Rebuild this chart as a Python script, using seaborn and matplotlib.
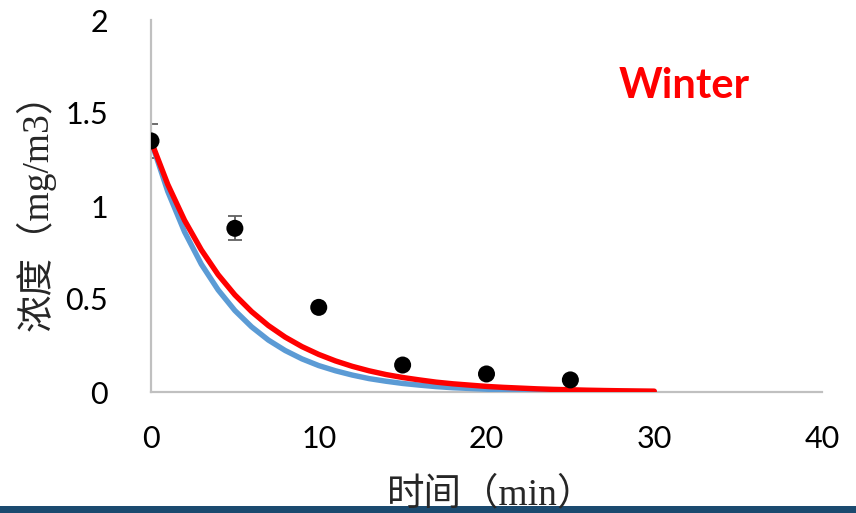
import numpy as np
import pandas as pd
import matplotlib
matplotlib.use("Agg")
import matplotlib.pyplot as plt
from matplotlib.patches import Rectangle
import seaborn as sns

# Measured concentrations (mean and error) at each sampling time
time_obs = [0, 5, 10, 15, 20, 25]
conc_obs = [1.35, 0.88, 0.455, 0.145, 0.097, 0.065]
conc_err = [0.09, 0.065, 0.0, 0.0, 0.0, 0.0]

# Model decay curves, tabulated per minute
time_model = list(range(0, 31))
conc_blue = [1.350, 1.078, 0.861, 0.687, 0.549, 0.438, 0.350, 0.279, 0.223, 0.178,
             0.142, 0.114, 0.091, 0.072, 0.058, 0.046, 0.037, 0.029, 0.023, 0.019,
             0.015, 0.012, 0.0095, 0.0076, 0.006, 0.0048, 0.0039, 0.0031, 0.0025,
             0.002, 0.0016]
conc_red = [1.350, 1.116, 0.923, 0.764, 0.631, 0.522, 0.432, 0.357, 0.295, 0.244,
            0.202, 0.167, 0.138, 0.114, 0.094, 0.078, 0.065, 0.053, 0.044, 0.037,
            0.030, 0.025, 0.021, 0.017, 0.014, 0.012, 0.0097, 0.008, 0.0066,
            0.0055, 0.0045]

x_ticks = [0, 10, 20, 30, 40]
y_ticks = [0, 0.5, 1, 1.5, 2]
x_label = "时间（min）"
y_label = "浓度（mg/m3）"
season = "Winter"

sns.set_theme(style="white")
plt.rcParams["font.family"] = ["Lato", "DejaVu Sans"]

fig = plt.figure(figsize=(8.56, 5.13), dpi=100)
ax = fig.add_axes([151 / 856, 1 - 392 / 513, (822 - 151) / 856, (392 - 20) / 513])
ax.set_facecolor("none")

model = pd.DataFrame({"t": time_model, "blue": conc_blue, "red": conc_red})
sns.lineplot(data=model, x="t", y="blue", ax=ax, color="#5b9bd5", lw=3.9,
             solid_capstyle="round", solid_joinstyle="round", zorder=3)
sns.lineplot(data=model, x="t", y="red", ax=ax, color="#ff0000", lw=3.9,
             solid_capstyle="round", solid_joinstyle="round", zorder=4)

obs = pd.DataFrame({"t": time_obs, "c": conc_obs, "e": conc_err})
ax.errorbar(obs["t"], obs["c"], yerr=obs["e"], fmt="none", ecolor="#606060",
            elinewidth=1.3, capsize=4.8, capthick=1.3, zorder=2)
sns.scatterplot(data=obs, x="t", y="c", ax=ax, color="black", s=150,
                edgecolor="none", zorder=5)

ax.set_xlim(0, 40)
ax.set_ylim(0, 2)
ax.set_xticks(x_ticks)
ax.set_yticks(y_ticks)
ax.set_xticklabels([str(v) for v in x_ticks])
ax.set_yticklabels([f"{v:g}" for v in y_ticks])
ax.tick_params(axis="both", length=0, labelsize=22, colors="black")
ax.tick_params(axis="x", pad=24)
ax.tick_params(axis="y", pad=31)

for side in ["top", "right"]:
    ax.spines[side].set_visible(False)
for side in ["left", "bottom"]:
    ax.spines[side].set_color("#c0c0c0")
    ax.spines[side].set_linewidth(1.6)
ax.grid(False)

ax.set_xlabel("")
ax.set_ylabel("")
fig.text(491 / 856, 1 - 495 / 513, x_label, ha="center", va="center", fontsize=27,
         family=["Liberation Serif", "Noto Sans CJK SC"], zorder=10)
fig.text(36 / 856, 1 - 203 / 513, y_label, ha="center", va="center", fontsize=27,
         rotation=90, family=["Liberation Serif", "Noto Sans CJK SC"])

ax.text(684 / 856, 1 - 86 / 513, season, transform=fig.transFigure, ha="center",
        va="center", fontsize=30, fontweight="bold", color="#ff0000")

# dark band along the bottom edge
fig.patches.append(Rectangle((0, 0), 1, 7 / 513, transform=fig.transFigure,
                             facecolor="#1b4a6f", edgecolor="none", zorder=-1))

fig.savefig("out.png", dpi=100)
